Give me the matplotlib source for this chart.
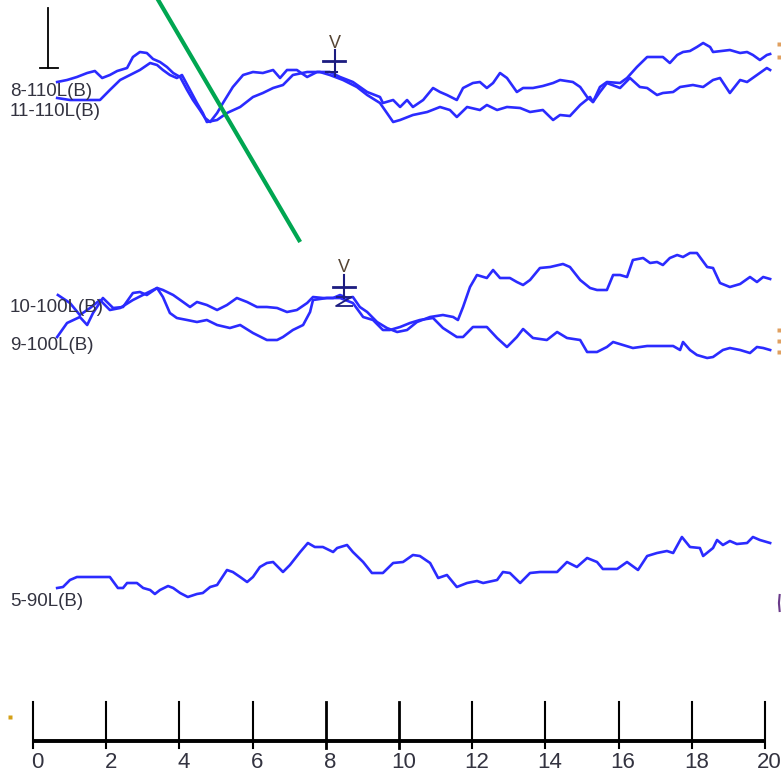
import matplotlib
matplotlib.use("Agg")
import matplotlib.pyplot as plt
import numpy as np

plt.rcParams['font.family'] = ['Liberation Sans', 'DejaVu Sans']

# time (ms) / amplitude (arbitrary units, positive = up) for each trace
t_8_110 = [0.66, 0.93, 1.20, 1.48, 1.69, 1.89, 2.10, 2.30, 2.57, 2.73, 2.92, 3.11, 3.28, 3.47, 3.66, 3.83,
           4.02, 4.21, 4.37, 4.56, 4.70, 4.84, 5.03, 5.19, 5.46, 5.74, 6.01, 6.28, 6.56, 6.75, 6.94, 7.21,
           7.49, 7.76, 8.11, 8.39, 8.74, 9.13, 9.48, 9.56, 9.84, 10.03, 10.22, 10.38, 10.66, 10.93, 11.12,
           11.31, 11.58, 11.75, 12.02, 12.21, 12.40, 12.57, 12.76, 12.95, 13.22, 13.39, 13.66, 13.93, 14.21,
           14.40, 14.75, 14.95, 15.14, 15.30, 15.49, 15.68, 16.04, 16.23, 16.50, 16.78, 17.21, 17.40, 17.60,
           17.76, 17.95, 18.14, 18.31, 18.50, 18.58, 19.04, 19.32, 19.51, 19.67, 19.86, 20.05, 20.14]
a_8_110 = [8, 10, 13, 17, 19, 12, 15, 19, 22, 33, 38, 37, 31, 28, 23, 17,
           13, 0, -10, -20, -28, -32, -23, -13, 3, 15, 18, 17, 20, 12, 20, 20,
           13, 18, 18, 13, 8, -2, -7, -13, -10, -17, -10, -17, -10, 2, -2,
           -5, -10, 2, 7, 8, 2, 7, 17, 12, -2, 2, 2, 4, 7,
           10, 8, 3, -7, -12, 3, 8, 7, 12, 23, 33, 33, 27, 35,
           38, 39, 43, 47, 43, 38, 40, 37, 38, 35, 30, 35, 36]

t_11_110 = [0.66, 1.01, 1.56, 1.83, 2.10, 2.38, 2.65, 2.92, 3.20, 3.39, 3.55, 3.74, 3.93, 4.07, 4.29, 4.48,
            4.64, 4.75, 5.03, 5.30, 5.66, 6.01, 6.28, 6.56, 6.83, 7.10, 7.49, 7.84, 8.11, 8.47, 8.85, 9.13,
            9.48, 9.67, 9.84, 10.03, 10.38, 10.77, 11.12, 11.39, 11.58, 11.86, 12.21, 12.40, 12.68, 12.95,
            13.31, 13.58, 13.93, 14.21, 14.40, 14.67, 14.95, 15.22, 15.30, 15.49, 15.68, 16.04, 16.31, 16.58,
            16.78, 17.05, 17.21, 17.49, 17.68, 18.03, 18.31, 18.58, 18.77, 19.04, 19.32, 19.51, 19.78, 20.05, 20.14]
a_11_110 = [-8, -10, -10, -10, 0, 10, 15, 20, 27, 25, 20, 15, 12, 15, 0, -13,
            -23, -32, -30, -23, -17, -7, -3, 2, 5, 15, 18, 18, 15, 10, 3, -5,
            -13, -23, -32, -30, -25, -22, -17, -20, -27, -17, -20, -15, -20, -17,
            -18, -22, -20, -30, -25, -26, -15, -7, -12, -2, 7, 2, 12, 3,
            2, -5, -3, -2, 3, 5, 3, 10, 12, -3, 10, 8, 15, 22, 20]

t_10_100 = [0.66, 0.93, 1.28, 1.48, 1.64, 1.91, 2.19, 2.46, 2.73, 2.92, 3.11, 3.39, 3.55, 3.83, 4.10, 4.29,
            4.48, 4.75, 5.03, 5.30, 5.57, 5.85, 6.12, 6.39, 6.67, 6.94, 7.21, 7.49, 7.65, 7.92, 8.20, 8.39,
            8.58, 8.74, 8.93, 9.13, 9.40, 9.67, 9.95, 10.22, 10.49, 10.85, 11.20, 11.48, 11.61, 11.75, 11.94,
            12.13, 12.40, 12.57, 12.76, 13.03, 13.22, 13.39, 13.58, 13.85, 14.13, 14.48, 14.67, 14.95, 15.22,
            15.41, 15.68, 15.85, 16.04, 16.23, 16.39, 16.67, 16.86, 17.05, 17.21, 17.40, 17.60, 17.76, 17.95,
            18.14, 18.42, 18.58, 18.77, 19.04, 19.32, 19.59, 19.78, 19.95, 20.14]
a_10_100 = [-27, -13, -7, -15, -3, 12, 2, 3, 17, 18, 15, 22, 20, 15, 8, 3,
            8, 5, 0, 5, 12, 8, 3, 3, 2, -2, 0, 7, 13, 12, 12, 15,
            12, 13, 3, -2, -12, -18, -22, -20, -12, -7, -5, -7, -10, 3, 23,
            35, 32, 40, 32, 32, 28, 25, 30, 42, 43, 46, 43, 30, 22,
            20, 20, 35, 35, 33, 50, 52, 47, 48, 45, 52, 55, 53, 57,
            57, 43, 42, 27, 23, 26, 33, 28, 33, 31]

t_9_100 = [0.68, 1.01, 1.28, 1.56, 1.83, 2.10, 2.38, 2.73, 3.11, 3.39, 3.55, 3.74, 3.93, 4.21, 4.48, 4.75,
           5.03, 5.38, 5.66, 6.01, 6.39, 6.67, 6.83, 7.10, 7.38, 7.57, 7.65, 8.03, 8.39, 8.74, 9.02, 9.29,
           9.56, 9.75, 10.03, 10.30, 10.57, 10.93, 11.20, 11.58, 11.75, 12.02, 12.40, 12.68, 12.95, 13.22,
           13.39, 13.66, 14.04, 14.32, 14.59, 14.95, 15.14, 15.41, 15.68, 15.85, 16.12, 16.39, 16.78, 17.13,
           17.49, 17.68, 17.76, 17.95, 18.14, 18.42, 18.58, 18.85, 19.04, 19.32, 19.59, 19.78, 19.95, 20.14]
a_9_100 = [15, 7, -5, 2, 10, 0, 2, 10, 17, 22, 13, -3, -8, -10, -12, -10,
           -15, -18, -15, -23, -30, -30, -27, -20, -15, -2, 10, 12, 12, 7, -7, -10,
           -20, -20, -17, -13, -10, -8, -18, -27, -27, -17, -17, -28, -37, -27,
           -19, -28, -30, -22, -28, -30, -42, -42, -37, -32, -35, -38, -36, -36,
           -36, -40, -32, -40, -45, -48, -47, -40, -38, -40, -43, -37, -38, -40]

t_5_90 = [0.66, 0.82, 1.01, 1.20, 2.10, 2.32, 2.46, 2.57, 2.84, 3.01, 3.20, 3.33, 3.47, 3.69, 3.83, 4.02,
          4.23, 4.48, 4.64, 4.84, 5.03, 5.30, 5.46, 5.66, 5.85, 6.01, 6.20, 6.39, 6.56, 6.83, 7.02, 7.30,
          7.51, 7.70, 7.92, 8.20, 8.31, 8.58, 8.74, 9.02, 9.26, 9.56, 9.84, 10.11, 10.38, 10.57, 10.85,
          11.07, 11.31, 11.58, 11.86, 12.13, 12.30, 12.68, 12.84, 13.03, 13.31, 13.58, 13.85, 14.32, 14.59,
          14.86, 15.14, 15.41, 15.57, 15.96, 16.23, 16.53, 16.78, 17.05, 17.32, 17.49, 17.73, 17.95, 18.22,
          18.31, 18.58, 18.69, 18.85, 19.04, 19.23, 19.51, 19.67, 19.86, 20.14]
a_5_90 = [-13, -12, -5, -2, -2, -13, -13, -8, -8, -13, -15, -19, -15, -11, -13, -18,
          -22, -19, -18, -12, -10, 5, 3, -2, -7, -2, 8, 12, 13, 3, 10, 23,
          32, 28, 28, 23, 27, 30, 23, 13, 2, 2, 12, 13, 20, 19, 12,
          -3, 0, -12, -8, -6, -8, -5, 3, 2, -8, 2, 3, 3, 13,
          8, 17, 13, 6, 6, 13, 5, 19, 22, 24, 22, 38, 28, 27,
          19, 27, 35, 30, 34, 31, 32, 38, 35, 32]

trace_names = ["8-110L(B)", "11-110L(B)", "10-100L(B)", "9-100L(B)", "5-90L(B)"]
wave_v_latency = [8.2, 8.5]
tick_values = list(range(0, 21, 2))

traces = [
    (t_8_110, a_8_110, 90, 92),
    (t_11_110, a_11_110, 90, 111),
    (t_10_100, a_10_100, 310, 308),
    (t_9_100, a_9_100, 310, 345),
    (t_5_90, a_5_90, 575, 601),
]

fig = plt.figure(figsize=(7.81, 7.76), dpi=100)
ax = fig.add_axes([0, 0, 1, 1])
ax.set_xlim(-0.9016, 20.437)
ax.set_ylim(776, 0)
ax.axis("off")

blue = "#2b2bff"
navy = "#1c1c80"
txt = "#333340"

for (t, a, base, label_y), name in zip(traces, trace_names):
    ax.plot(t, base - np.array(a), color=blue, lw=1.9, solid_joinstyle="round")
    ax.text(-0.628, label_y, name, fontsize=13.5, color=txt, ha="left", va="center")

# scale bar
ax.plot([0.41, 0.41], [8, 68], color="black", lw=1.3)
ax.plot([0.19, 0.68], [68, 68], color="black", lw=1.3)

# green marker line
ax.plot([3.34, 7.30], [-5, 242], color="#00a651", lw=3.0, solid_capstyle="butt")

# wave V markers
xv = wave_v_latency[0]
ax.text(xv + 0.05, 43, "V", fontsize=13, color="#554433", ha="center", va="center")
ax.plot([xv + 0.05, xv + 0.05], [50, 76], color=navy, lw=1.5)
ax.plot([xv - 0.27, xv + 0.33], [61, 61], color=navy, lw=2.0)
ax.plot([xv - 0.2, xv + 0.1], [72, 72], color=navy, lw=1.5)

xv = wave_v_latency[1]
ax.text(xv, 267, "V", fontsize=13, color="#554433", ha="center", va="center")
ax.plot([xv, xv], [275, 298], color=navy, lw=1.5)
ax.plot([xv - 0.3, xv + 0.3], [287, 287], color=navy, lw=2.0)
ax.plot([xv - 0.2, xv + 0.2, xv - 0.22, xv + 0.22], [297, 297, 306, 306], color=navy, lw=1.3)

# time ruler
ax.plot([0, 20], [741, 741], color="black", lw=2.8, solid_capstyle="butt")
for v in tick_values:
    ax.plot([v, v], [702, 748], color="black", lw=1.5 if v not in (8, 10) else 2.0)
    ax.text(v + 0.12, 763, str(v), fontsize=16, color=txt, ha="center", va="center")

# stray fragments at the edges
ax.plot([-0.63], [717], marker="s", ms=2.5, color="#d4a017", mec="none")
for yy in (44, 57, 330, 341, 352):
    ax.plot([20.38], [yy], marker="s", ms=2.5, color="#e0a060", mec="none")
ax.plot([20.40, 20.38, 20.40], [595, 603, 611], color="#6a3a8a", lw=1.5)

fig.savefig("out.png", dpi=100)
